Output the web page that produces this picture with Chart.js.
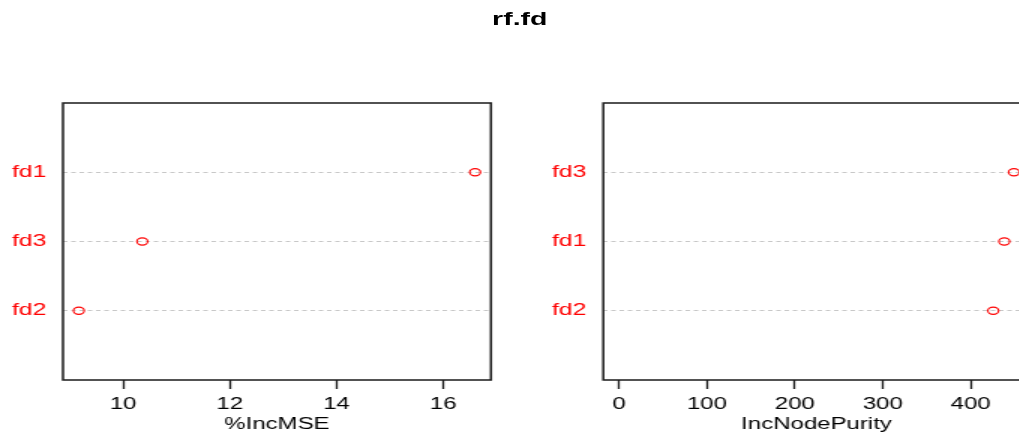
<!DOCTYPE html>
<html>
<head>
<meta charset="utf-8">
<script src="https://cdn.jsdelivr.net/npm/chart.js@4/dist/chart.umd.min.js"></script>
<style>
  html, body { margin: 0; padding: 0; background: #fff; overflow: hidden; width: 1019px; height: 434px; }
  #stage { position: absolute; left: 0; top: 0; width: 700px; height: 434px; transform: scaleX(1.5); transform-origin: 0 0; }
  #title { position: absolute; left: 0; width: 693px; top: 8px; text-align: center; font: bold 19px "Liberation Sans", Arial, sans-serif; color: #000; }
  .pane { position: absolute; top: 0; height: 434px; }
</style>
</head>
<body>
<div id="stage">
  <div id="title">rf.fd</div>
  <div class="pane" style="left:0;width:340px;"><canvas id="c1" width="340" height="434"></canvas></div>
  <div class="pane" style="left:340px;width:360px;"><canvas id="c2" width="360" height="434"></canvas></div>
</div>
<script>
// ---- data ----
const variables = ['fd1', 'fd2', 'fd3'];
const incMSE = [16.60, 9.17, 10.36];
const incNodePurity = [438.3, 425.7, 449.3];
const ticksMSE = [10, 12, 14, 16];
const ticksPurity = [0, 100, 200, 300, 400];
const axisTitles = ['%IncMSE', 'IncNodePurity'];

const FONT = '"Liberation Sans", Arial, sans-serif';

const boxPlugin = {
  id: 'box',
  afterDraw(chart) {
    const a = chart.chartArea, ctx = chart.ctx;
    ctx.save();
    ctx.strokeStyle = '#1a1a1a';
    ctx.lineWidth = 1.5;
    ctx.strokeRect(a.left, a.top, a.right - a.left, a.bottom - a.top);
    ctx.restore();
  }
};

function makePanel(id, values, ticks, title, zeroMin, pad) {
  // order ascending (R dotchart puts the smallest at the bottom)
  const order = values.map((v, i) => i).sort((a, b) => values[a] - values[b]);
  const labels = order.map(i => variables[i]);
  const pts = order.map((i, k) => ({ x: values[i], y: k + 1 }));
  const lo = zeroMin ? 0 : Math.min(...values);
  const hi = Math.max(...values);
  const ext = (hi - lo) * 0.04;
  new Chart(document.getElementById(id), {
    type: 'scatter',
    data: {
      datasets: [{
        data: pts,
        pointStyle: 'circle',
        pointRadius: 3.6,
        pointHoverRadius: 3.6,
        borderColor: '#ff0000',
        backgroundColor: 'rgba(0,0,0,0)',
        borderWidth: 1.1
      }]
    },
    plugins: [boxPlugin],
    options: {
      responsive: false,
      devicePixelRatio: 1,
      animation: false,
      layout: { padding: { left: pad.left, right: pad.right, top: 103, bottom: 0 } },
      plugins: { legend: { display: false }, tooltip: { enabled: false } },
      scales: {
        x: {
          type: 'linear',
          min: lo - ext,
          max: hi + ext,
          afterBuildTicks: s => { s.ticks = ticks.map(v => ({ value: v })); },
          afterFit: s => { s.height = 54; },
          grid: { drawOnChartArea: false, drawTicks: true, tickLength: 9, tickColor: '#1a1a1a', tickWidth: 1.3 },
          border: { display: false },
          ticks: { color: '#000', font: { family: FONT, size: 16 }, padding: 6, maxRotation: 0, autoSkip: false },
          title: { display: true, text: title, color: '#000', font: { family: FONT, size: 16 }, padding: { top: 0, bottom: 0 } }
        },
        y: {
          type: 'linear',
          min: 0,
          max: 4,
          afterBuildTicks: s => { s.ticks = labels.map((l, k) => ({ value: k + 1 })); },
          afterFit: s => { s.width = pad.axis; },
          grid: { color: '#c8c8c8', lineWidth: 1, drawTicks: false },
          border: { display: false, dash: [3, 2.5] },
          ticks: {
            color: '#ff0000',
            font: { family: FONT, size: 16.5 },
            crossAlign: 'far',
            padding: 0,
            autoSkip: false,
            callback: v => labels[v - 1] || ''
          }
        }
      }
    }
  });
}

makePanel('c1', incMSE, ticksMSE, axisTitles[0], false, { left: 8, axis: 34, right: 12.7 });
makePanel('c2', incNodePurity, ticksPurity, axisTitles[1], true, { left: 28, axis: 34.2, right: 13.5 });
</script>
</body>
</html>
